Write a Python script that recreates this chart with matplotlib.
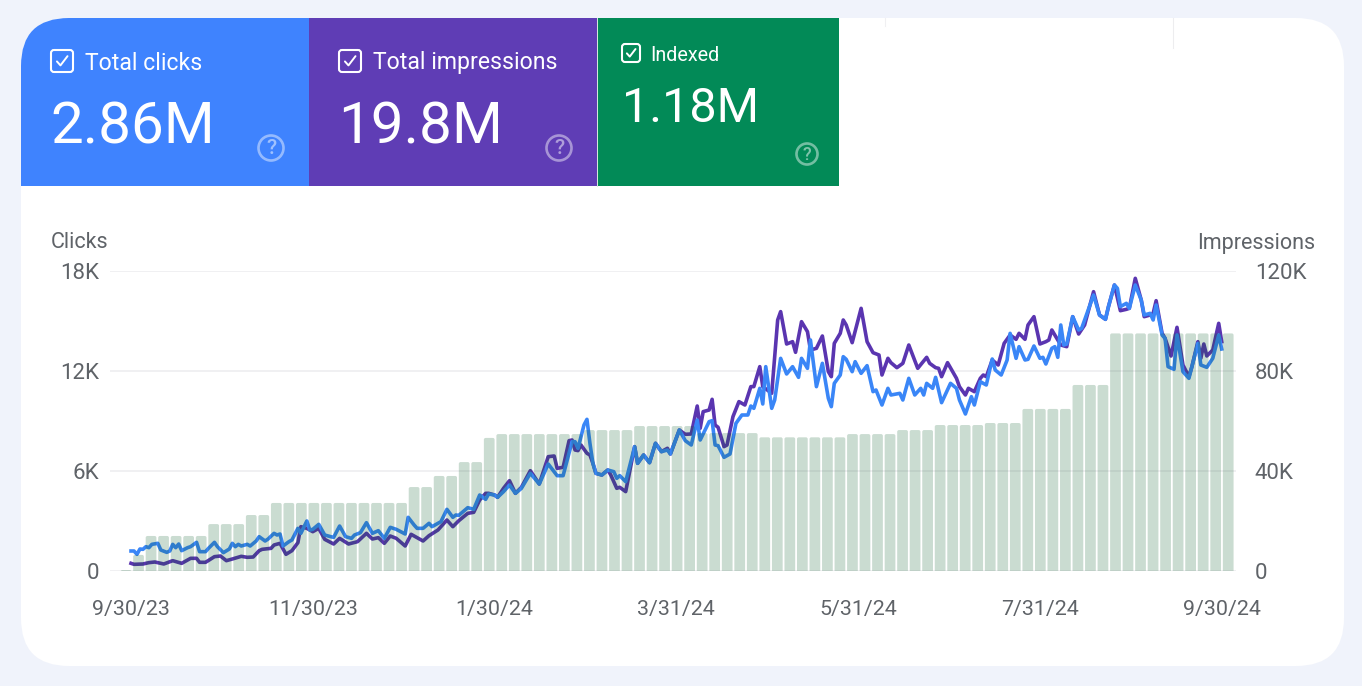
import numpy as np
import matplotlib
matplotlib.use('Agg')
import matplotlib.pyplot as plt
from matplotlib.patches import FancyBboxPatch, Rectangle, Circle

plt.rcParams['font.family'] = ['Roboto', 'DejaVu Sans']

#%% data
clicks_day = [0, 1, 2, 3, 4, 5, 6, 7, 9, 10, 12, 13, 14, 15, 16, 17, 19, 20, 22, 23, 25, 26, 28, 29, 31, 33, 34, 35, 36, 37,
              39, 40, 42, 43, 45, 46, 48, 49, 50, 51, 53, 54, 56, 57, 59, 60, 61, 63, 65, 67, 68, 70, 72, 74, 75,
              77, 79, 81, 83, 85, 87, 89, 92, 93, 95, 96, 98, 100, 101, 104, 106, 108, 109, 110, 113, 115, 117, 119,
              120, 122, 123, 125, 127, 129, 131, 134, 137, 140, 143, 145, 148,
              149, 150, 152, 153, 154, 155, 156, 158, 160, 162, 163, 164, 166, 167, 169, 170, 172, 174, 176, 178, 180,
              181, 184, 186, 188, 190, 191, 194, 195, 196, 197, 199, 201, 203, 205, 207, 208, 209, 211, 212, 213, 215,
              216, 218, 220, 222, 224,
              225, 227, 228, 230, 232, 234, 235, 236, 238, 239, 240, 242, 243, 245, 247, 249, 250, 252, 254, 255, 258,
              259, 261, 263, 265, 266, 267, 269, 270, 272, 275, 277, 278, 280, 282, 283, 285, 287, 289, 290, 292, 294,
              295, 297,
              298, 300, 301, 303, 305, 306, 307, 309, 310, 311, 312, 313, 314, 316, 318, 319, 321, 323, 325, 327, 328,
              330, 331, 332, 334, 335, 337, 339, 340, 342, 343, 344, 346, 347, 348, 350, 351, 353, 355, 356, 358, 359,
              361, 363, 365, 366]
clicks = [1200, 1200, 1000, 1320, 1300, 1460, 1400, 1600, 1660, 1260, 1120, 1200, 1600, 1400, 1620, 1220, 1400, 1460, 1720,
          1160, 1160, 1360, 1720, 1460, 1100, 1320, 1660, 1460, 1600, 1500, 1600, 1500, 1800, 2060, 1800, 1920, 2260,
          2160, 2220, 1500, 1760, 1860, 2560, 2260, 3000, 2460, 2500, 2800, 2160, 2060, 2020, 2700, 2060, 1960, 2160,
          2300, 2900, 2260, 2420, 1960, 2620, 2500, 2220, 3220, 2760, 2560, 2560, 2860, 2660, 2960, 3700, 3220, 3360,
          3340, 3800, 3700, 4560, 4300, 4620, 4560, 4420, 4760, 5160, 4660, 4960, 5860, 5220, 6420, 5720, 5720, 7760,
          7760, 7360, 8760, 9100, 7660, 6460, 5860, 5760, 6060, 5960, 5560, 5720, 5360, 6060, 7460, 6460, 6960, 6500,
          7660, 7160, 7260, 7020, 8460, 7820, 7560, 9060, 7860, 8960, 9020, 7560, 7520, 6820, 7020, 8860, 9360, 9360,
          9900, 9760, 10960, 10020, 12260, 9760, 10260, 12760, 11820, 12260, 11620,
          12760, 12160, 13860, 11060, 12460, 10360, 9860, 11260, 11760, 12860, 12700, 11960, 12560, 11860, 12320, 10760,
          10860, 9960, 10960, 10560, 10660, 10260, 11560, 10560, 10960, 10560, 11260, 10960, 11620, 10100, 11260, 10960,
          10260, 9420, 10460, 9960, 11360, 11160, 12720, 12060, 11760, 12660, 14260, 12760,
          13460, 12660, 12700, 13500, 12760, 12820, 12420, 13360, 13460, 12820, 14760, 13560, 13620, 15260, 14460, 14560,
          15560, 16560, 15360, 15100, 15860, 17160, 16960, 15860, 16060, 15760, 17160, 16260, 15360, 15460, 15060, 15960,
          14160, 13960, 12260, 12100, 14160, 11960, 11560, 12260, 13660, 12360, 12220, 12760, 14160, 13320]

impr_day = [0, 1, 4, 6, 8, 11, 14, 17, 20, 22, 23, 25, 28, 30, 32, 34, 37, 39, 41, 43, 44, 47, 48, 50, 52, 54, 56, 57, 59,
            61, 63, 65, 68, 70, 73, 76, 79, 81, 83, 85, 87, 89, 92, 94, 98, 100, 103, 106, 108, 110, 113, 115, 117, 119,
            120, 122, 123, 125, 127, 129, 131, 134, 137, 140, 142, 143, 145, 147, 148,
            149, 150, 151, 153, 154, 155, 156, 158, 160, 161, 163, 164, 166, 167, 169, 170, 172, 174, 176, 178, 180, 181,
            184, 186, 188, 190, 191, 192, 194, 195, 196, 197, 199, 200, 202, 204, 206, 208, 209, 211, 212, 215, 217, 218,
            220, 222, 223,
            225, 227, 228, 230, 232, 234, 235, 236, 238, 239, 240, 242, 245, 247, 249, 251, 252, 254, 255, 257, 259, 261,
            264, 267, 268, 270, 271, 272, 274, 277, 278, 280, 281, 283, 285, 286, 287, 289, 291, 293, 295, 297,
            298, 300, 301, 303, 305, 307, 308, 309, 310, 312, 314, 316, 318, 320, 323, 325, 327, 328, 330, 332, 334, 335,
            337, 339, 340, 342, 343, 344, 346, 347, 349, 351, 353, 355, 356, 358, 359, 360, 361, 363, 365, 366]
impressions = [3070, 2670, 2800, 3340, 3600, 2800, 4130, 3070, 5070, 5070, 3470, 3470, 5730, 6000, 4130, 4800, 5870, 5470, 5600,
               8130, 8670, 9070, 10400, 11070, 6670, 8130, 11330, 17730, 17070, 15730, 17070, 12670, 10800, 13070, 10800,
               11730, 15070, 12800, 13330, 11070, 14000, 13070, 10000, 14670, 12000, 14130, 16400, 20400, 17730, 20130,
               23070, 23470, 28400, 31070, 31070, 30400, 29470, 33070, 36130, 31070, 33470, 40130, 34800, 45730, 46000,
               41070, 41470, 52130, 52400,
               48400, 48150, 50400, 47080, 46400, 43080, 39080, 38400, 40400, 38400, 33080, 33480, 31750, 37750, 49750, 43080,
               46400, 43350, 51080, 47750, 49080, 46800, 56400, 54680, 54800, 66000, 57080, 63750, 64400, 68680, 58400,
               57480, 49750, 50400, 61750, 67750, 66400, 73750, 73750, 81750, 73750, 71080, 100400, 103750, 90800, 91730, 87470,
               99730, 95730, 88400, 89070, 94000, 79730, 77730, 91070, 95070, 100400, 98400, 91330, 105070, 91730, 87330,
               86400, 78400, 85070, 83330, 81330, 83070, 90400, 81070, 85470, 83070, 81330, 81070, 77730, 83330, 77070,
               73730, 70400, 73070, 71730, 77070, 78400, 77730, 84400, 82400, 91070, 94400, 92670,
               95070, 92670, 98400, 101730, 90800, 91730, 92400, 96400, 94400, 90400, 89730, 101730, 94800, 98400, 111730,
               102400, 100670, 105730, 114400, 104130, 104670, 105070, 117070, 108400, 101730, 102400, 103070, 108130,
               95070, 93070, 86000, 97470, 82400, 77730, 81730, 91730, 85070, 90800, 86000, 88400, 99070, 91730]

# one value per bar, these are snapshots of the indexed pages count
indexed = [5e3, 80e3] + [174e3]*5 + [233e3]*3 + [278e3]*2 + [338e3]*11 + [417e3]*2 + [472e3]*2 + [541e3]*2 \
    + [661e3] + [680e3]*7 + [700e3]*4 + [720e3]*5 + [685e3]*5 + [664e3]*7 + [680e3]*4 + [700e3]*3 \
    + [725e3]*4 + [735e3]*3 + [805e3]*4 + [924e3]*3 + [1180e3]*10

left_ticks = [0, 6000, 12000, 18000]
left_labels = ['0', '6K', '12K', '18K']
right_ticks = [0, 40000, 80000, 120000]
right_labels = ['0', '40K', '80K', '120K']
date_ticks = [0, 61, 122, 183, 244, 305, 366]
date_labels = ['9/30/23', '11/30/23', '1/30/24', '3/31/24', '5/31/24', '7/31/24', '9/30/24']

tiles = ['Total clicks', 'Total impressions', 'Indexed']
tile_values = ['2.86M', '19.8M', '1.18M']

#%% colours
BG = '#F0F3FB'
BLUE = '#3F83FE'
PURPLE = '#5F3DB5'
GREEN = '#028A57'
GREY = '#5F6368'
LINE_BLUE = '#3A86F7'
LINE_PURPLE = '#5A35B0'

W, H = 1362, 686
fig = plt.figure(figsize=(W/100, H/100), dpi=100, facecolor=BG)

#%% card and tiles, drawn in pixel coordinates
bg = fig.add_axes([0, 0, 1, 1], zorder=0)
bg.set_xlim(0, W)
bg.set_ylim(H, 0)
bg.axis('off')

card = FancyBboxPatch((21+48, 18+48), 1323-96, 648-96, boxstyle='round,pad=48,rounding_size=48',
                      fc='white', ec='none')
bg.add_patch(card)

tile_x = [(21, 309), (309, 597), (597, 839)]
tile_col = [BLUE, PURPLE, GREEN]
for (x0, x1), col in zip(tile_x, tile_col):
    r = Rectangle((x0, 18), x1-x0, 168, fc=col, ec='none')
    bg.add_patch(r)
    r.set_clip_path(card)
bg.plot([596.5, 596.5], [18, 186], color='#DDE8E2', lw=0.7)

# the faint marks at the top of the card
bg.plot([885, 885], [18, 26], color='#F0F0F2', lw=0.8)
bg.plot([1172.5, 1172.5], [18, 48], color='#EDEDEF', lw=0.8)


def checkbox(x, y, s):
    bg.add_patch(FancyBboxPatch((x+2, y+2), s-4, s-4, boxstyle='round,pad=2,rounding_size=3',
                                fc='none', ec='white', lw=1.5))
    bg.plot([x+.27*s, x+.43*s, x+.75*s], [y+.52*s, y+.70*s, y+.28*s], color='white', lw=1.4,
            solid_capstyle='round', solid_joinstyle='round')


def help_icon(x, y, r, fs):
    bg.add_patch(Circle((x, y), r, fc='none', ec='white', lw=1.9, alpha=.45))
    bg.text(x, y+.5, '?', color='white', alpha=.5, fontsize=fs, ha='center', va='center', fontweight='medium')


checkbox(51, 50, 22)
checkbox(339, 50, 22)
checkbox(622, 44, 18)
bg.text(85, 63, tiles[0], color='white', fontsize=16.6, va='center')
bg.text(373, 63, tiles[1], color='white', fontsize=16.6, va='center')
bg.text(650, 55.5, tiles[2], color='white', fontsize=14.2, va='center')
bg.text(50, 128, tile_values[0], color='white', fontsize=42, va='center')
bg.text(338, 128, tile_values[1], color='white', fontsize=42, va='center')
bg.text(622, 109, tile_values[2], color='white', fontsize=35, va='center')
help_icon(271, 148, 12.5, 15)
help_icon(559, 148, 12.5, 15)
help_icon(807, 154, 10.5, 13)

bg.text(51, 243, 'Clicks', color=GREY, fontsize=15.5, va='center')
bg.text(1315, 243, 'Impressions', color=GREY, fontsize=15.5, va='center', ha='right')

#%% chart
ax = fig.add_axes([110/W, (H-571)/H, 1126/W, 300/H], zorder=3)
ax2 = ax.twinx()
ax3 = ax.twinx()
ax2.set_zorder(2)
ax3.set_zorder(4)
for a in (ax, ax2, ax3):
    a.patch.set_visible(False)
    for s in a.spines.values():
        s.set_visible(False)

ax.set_xlim(-7.05, 370.8)
ax.set_ylim(0, 18000)
ax2.set_ylim(0, 120000)
ax3.set_ylim(0, 1.49e6)

# grid sits on the lowest axes so the bars and lines go over it
ax2.yaxis.grid(True, color='#EEEEF0', lw=1.2)
ax2.set_axisbelow(True)

ax2.plot(impr_day, impressions, color=LINE_PURPLE, lw=2.6, solid_joinstyle='round')
ax.plot(clicks_day, clicks, color=LINE_BLUE, lw=2.6, solid_joinstyle='round')

# rounded bars: boxes start below the axis so only the tops show the rounding
bar_pos = -1.68 + 4.203*np.arange(len(indexed))
bar_w = 3.6
aspect = (1.49e6/300)*2.98
for x, v in zip(bar_pos, indexed):
    ax3.add_patch(FancyBboxPatch((x-bar_w/2, -40000), bar_w, v+40000, boxstyle='round,pad=0,rounding_size=0.6',
                                 mutation_aspect=aspect, fc='#095B29', ec='none', alpha=.21))
ax3.set_yticks([])

ax.set_yticks(left_ticks, left_labels)
ax2.set_yticks(right_ticks, right_labels)
ax.set_xticks(date_ticks, date_labels)
ax.tick_params(axis='y', length=0, pad=8, labelcolor=GREY, labelsize=16)
ax2.tick_params(axis='y', length=0, pad=13.5, labelcolor=GREY, labelsize=16)
ax.tick_params(axis='x', length=0, pad=21, labelcolor=GREY, labelsize=15.4)
ax3.tick_params(axis='both', length=0)
plt.setp(ax.get_yticklabels(), va='center_baseline')
plt.setp(ax2.get_yticklabels(), va='center_baseline')

fig.savefig('out.png', dpi=100, facecolor=BG)
